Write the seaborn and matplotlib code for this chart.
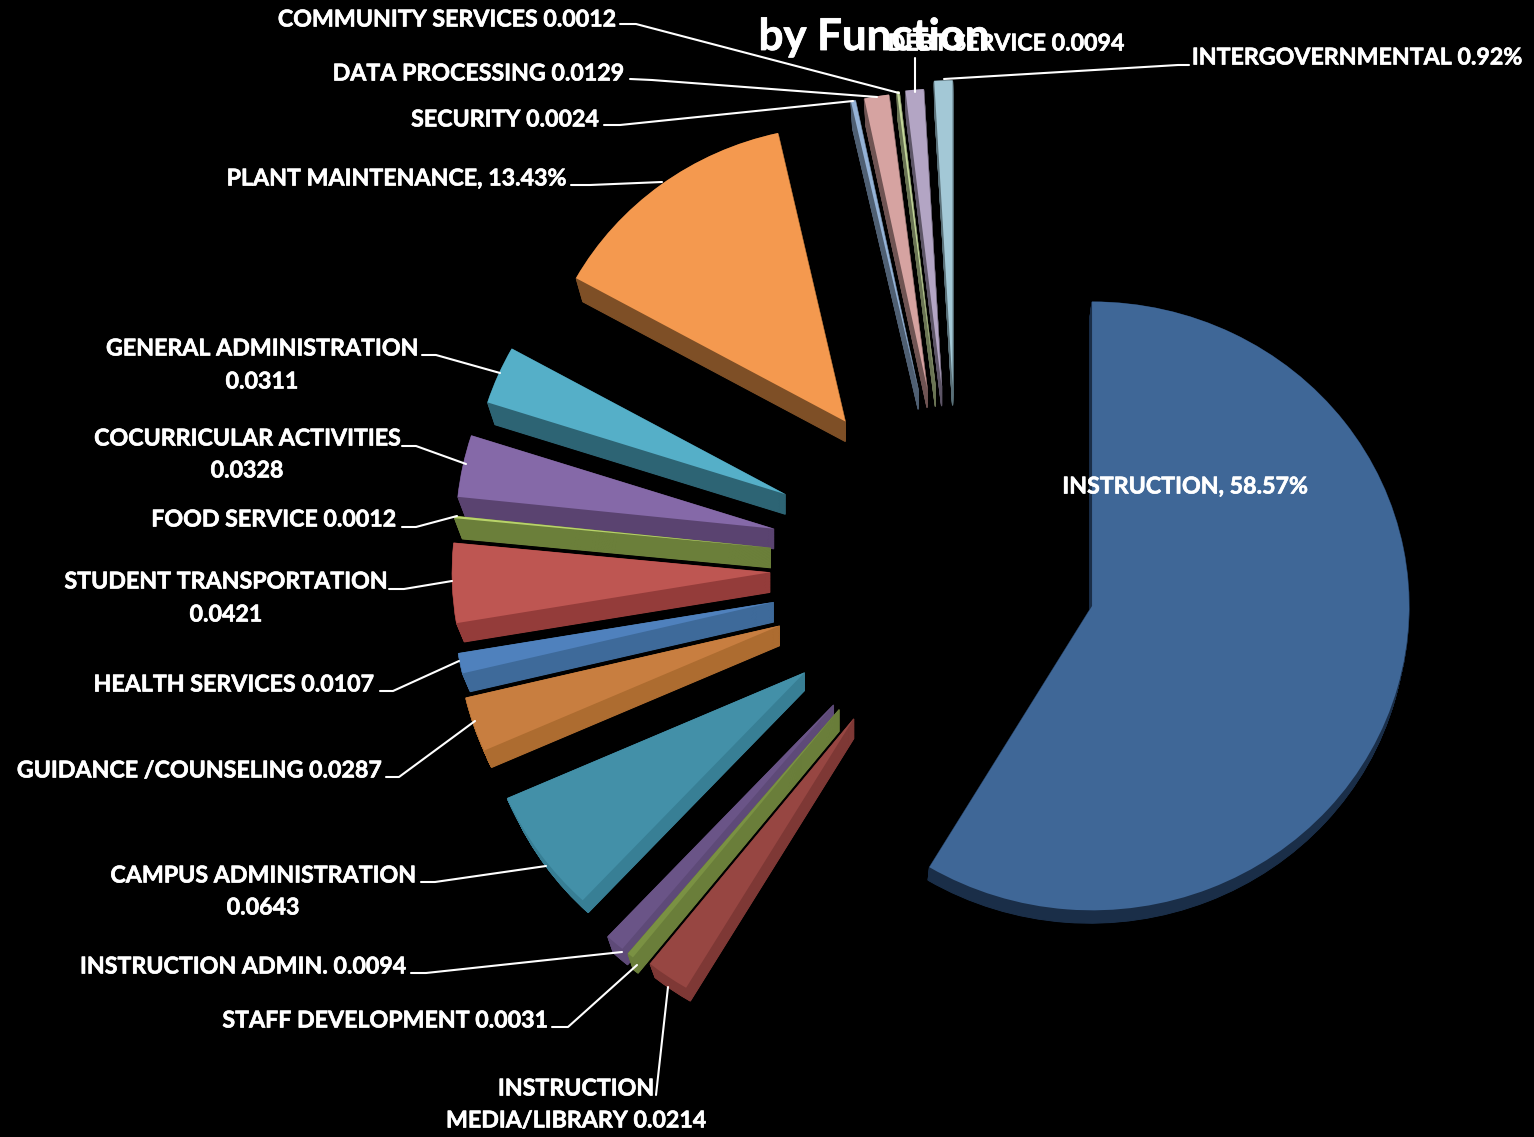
import numpy as np
import matplotlib
matplotlib.use("Agg")
import matplotlib.pyplot as plt
import matplotlib.patheffects as pe
import seaborn as sns

W, H = 1534, 1137

# Share of spending by function, clockwise from twelve o'clock
functions = ["INSTRUCTION", "INSTRUCTION MEDIA/LIBRARY", "STAFF DEVELOPMENT", "INSTRUCTION ADMIN.",
             "CAMPUS ADMINISTRATION", "GUIDANCE /COUNSELING", "HEALTH SERVICES", "STUDENT TRANSPORTATION",
             "FOOD SERVICE", "COCURRICULAR ACTIVITIES", "GENERAL ADMINISTRATION", "PLANT MAINTENANCE",
             "SECURITY", "DATA PROCESSING", "COMMUNITY SERVICES", "DEBT SERVICE", "INTERGOVERNMENTAL"]
shares = [0.5857, 0.0214, 0.0031, 0.0094, 0.0643, 0.0287, 0.0107, 0.0421,
          0.0012, 0.0328, 0.0311, 0.1343, 0.0024, 0.0129, 0.0012, 0.0094, 0.0092]

top_colors = ["#3F6797", "#974642", "#7A9143", "#6A5487", "#4390A8", "#C87E40", "#4F81BD", "#BE5652",
              "#B9D36A", "#8569A8", "#55AFC8", "#F4994F", "#95B3D7", "#D6A3A1", "#C3D69B", "#B3A5C4", "#A3C8D6"]
side_colors = ["#1A2E48", "#7E3835", "#6A7E3A", "#5E4A78", "#387F95", "#AD6C30", "#3E6A9A", "#943C3A",
               "#6B7F3A", "#5A4370", "#2D6474", "#7E4F26", "#4F5F72", "#6F5453", "#6A7454", "#5D5566", "#5A7078"]

# Pie geometry in pixels; slices nearer the viewer are drawn slightly larger
squash = 0.96
center = (958, (H - 566) / squash)
explode = [137] + [188] * 16
radii = [317, 327, 331, 331, 325, 323, 320, 318, 318, 318, 313, 308, 308, 308, 310, 310, 318]
nudge_x = [2, 3, 0, 0, 0, 0, 0, 0, 0, 0, 0, 0, 0, 0, 0, 0, 0]
lift = [5, 4, 3, 3, 2, 2, 0, 0, 0, 0, 0, 0, 0, 0, 0, 0, 0]
depth = [14, 20, 22, 22, 18, 20, 20, 20, 20, 20, 20, 20, 20, 20, 20, 20, 20]
wall_dx = [-2, 0, 0, 0, 0, 0, 0, 0, 0, 0, 0, 0, 0, 0, 0, 0, 0]
shrink = [0.004] + [0.025] * 16

sns.set_theme(style="dark", rc={"figure.facecolor": "black", "axes.facecolor": "black",
                                "savefig.facecolor": "black"})
plt.rcParams["font.family"] = ["Lato", "DejaVu Sans"]

fig = plt.figure(figsize=(W / 100, H / 100), dpi=100)
ax = fig.add_axes([0, 0, 1, 1])


def draw_pie(colors, t=0.0, edge=0.0):
    """Draw one layer of the pie, t running from the top face (0) to the base (1)."""
    wedges, _ = ax.pie(shares, explode=explode, colors=colors, radius=300, center=center,
                       startangle=90, counterclock=False, wedgeprops={"linewidth": edge})
    for w, r, n, l, d, dx, s, c in zip(wedges, radii, nudge_x, lift, depth, wall_dx, shrink, colors):
        cx, cy = w.center
        w.set_center((cx + n + t * dx, cy - (l + t * d) / squash))
        w.set_radius(r * (1 - s * t))
        if edge:
            w.set_edgecolor(c)
    return wedges


# Extrude the side walls by stacking shifted copies, deepest first
for t in np.linspace(1, 0, 48)[:-1]:
    draw_pie(side_colors, t=t, edge=0.8)

draw_pie(top_colors)

ax.set_aspect("auto")
ax.set_xlim(0, W)
ax.set_ylim(0, H / squash)
ax.axis("off")


def fx(x):
    return x / W


def fy(y):
    return 1 - y / H


thicken = [pe.withStroke(linewidth=0.45, foreground="white")]
label_style = dict(color="white", fontsize=16.7, fontweight="bold", va="center", zorder=5, path_effects=thicken)

# Text, anchor point and alignment of each callout
callouts = [
    ("COMMUNITY SERVICES 0.0012", 616, 20, "right"),
    ("DATA PROCESSING 0.0129", 624, 74, "right"),
    ("SECURITY 0.0024", 599, 120, "right"),
    ("PLANT MAINTENANCE, 13.43%", 566, 179, "right"),
    ("GENERAL ADMINISTRATION", 262, 349, "center"),
    ("0.0311", 262, 382, "center"),
    ("COCURRICULAR ACTIVITIES", 247, 439, "center"),
    ("0.0328", 247, 471, "center"),
    ("FOOD SERVICE 0.0012", 396, 520, "right"),
    ("STUDENT TRANSPORTATION", 226, 582, "center"),
    ("0.0421", 226, 615, "center"),
    ("HEALTH SERVICES 0.0107", 374, 685, "right"),
    ("GUIDANCE /COUNSELING 0.0287", 381, 771, "right"),
    ("CAMPUS ADMINISTRATION", 263, 876, "center"),
    ("0.0643", 263, 908, "center"),
    ("INSTRUCTION ADMIN. 0.0094", 406, 967, "right"),
    ("STAFF DEVELOPMENT 0.0031", 548, 1021, "right"),
    ("INSTRUCTION", 576, 1089, "center"),
    ("MEDIA/LIBRARY 0.0214", 576, 1121, "center"),
    ("DEBT SERVICE 0.0094", 1006, 44, "center"),
    ("INTERGOVERNMENTAL 0.92%", 1357, 58, "center"),
    ("INSTRUCTION, 58.57%", 1185, 487, "center"),
]

leaders = [
    [(620, 24), (636, 24), (899, 93)],
    [(630, 79), (652, 80), (877, 97)],
    [(604, 125), (620, 125), (853, 101)],
    [(571, 185), (590, 185), (662, 182)],
    [(422, 355), (436, 355), (500, 373)],
    [(402, 446), (416, 446), (466, 464)],
    [(402, 527), (416, 527), (457, 516)],
    [(389, 589), (404, 589), (452, 581)],
    [(380, 691), (393, 691), (459, 661)],
    [(386, 777), (399, 777), (475, 721)],
    [(421, 882), (435, 882), (546, 866)],
    [(411, 973), (426, 973), (622, 952)],
    [(552, 1027), (568, 1027), (637, 965)],
    [(656, 1095), (668, 987)],
    [(915, 58), (915, 92)],
    [(1189, 65), (1178, 65), (944, 79)],
]

for points in leaders:
    xs, ys = zip(*points)
    fig.add_artist(plt.Line2D([fx(x) for x in xs], [fy(y) for y in ys], color="white", lw=1.5,
                              transform=fig.transFigure, zorder=4))

fig.text(fx(874), fy(37), "by Function", color="white", fontsize=31.5, fontweight="bold",
         ha="center", va="center", zorder=5, path_effects=[pe.withStroke(linewidth=0.6, foreground="white")])

for text, x, y, align in callouts:
    fig.text(fx(x), fy(y), text, ha=align, **label_style)

fig.savefig("out.png", dpi=100, facecolor="black")
